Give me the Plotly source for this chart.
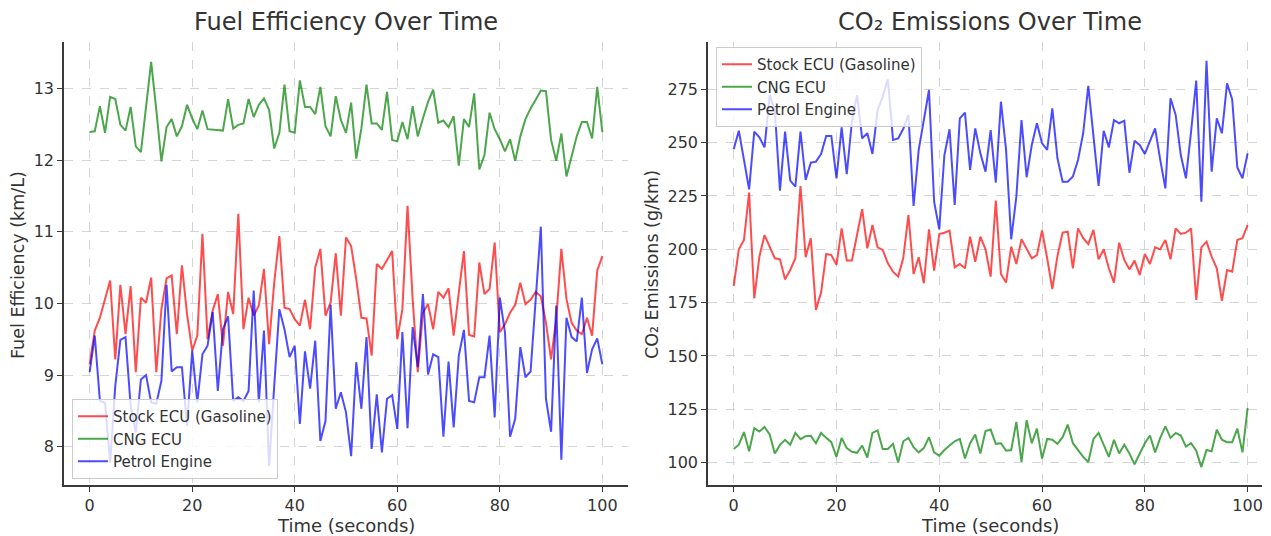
import plotly.graph_objects as go

W, H = 1271, 536
time_s = list(range(0, 101))

# ---- Fuel efficiency (km/L) ----
stock_fe = [9.15, 9.62, 9.80, 10.06, 10.32, 9.22, 10.26, 9.57, 10.24, 9.04,
            10.08, 10.01, 10.36, 9.04, 9.92, 10.35, 10.39, 9.57, 10.53, 9.85,
            9.34, 9.55, 10.97, 9.50, 9.90, 10.13, 9.41, 10.16, 9.85, 11.25,
            9.64, 10.08, 9.83, 9.97, 10.48, 9.43, 10.29, 10.94, 9.94, 9.92,
            9.78, 9.69, 10.05, 9.64, 10.50, 10.76, 9.83, 10.01, 10.70, 9.83,
            10.92, 10.80, 10.34, 9.80, 9.79, 9.27, 10.55, 10.48, 10.60, 10.73,
            9.50, 9.92, 11.36, 10.06, 9.04, 9.87, 9.99, 9.64, 10.16, 10.08,
            10.21, 9.55, 10.15, 10.73, 9.56, 9.54, 10.57, 10.13, 10.20, 10.85,
            9.60, 9.71, 9.87, 9.98, 10.29, 9.99, 10.05, 10.16, 10.10, 9.73,
            9.22, 9.78, 10.76, 10.06, 9.73, 9.62, 9.57, 9.80, 9.55, 10.46,
            10.66]
cng_fe = [12.39, 12.40, 12.75, 12.38, 12.88, 12.85, 12.49, 12.41, 12.74, 12.19,
          12.11, 12.74, 13.37, 12.70, 11.98, 12.46, 12.57, 12.33, 12.47, 12.77,
          12.58, 12.43, 12.69, 12.43, 12.42, 12.41, 12.41, 12.85, 12.44, 12.49,
          12.51, 12.85, 12.60, 12.77, 12.86, 12.70, 12.16, 12.38, 13.05, 12.40,
          12.38, 13.11, 12.74, 12.74, 12.64, 13.02, 12.47, 12.33, 12.89, 12.56,
          12.38, 12.80, 12.02, 12.44, 13.05, 12.51, 12.51, 12.42, 12.95, 12.28,
          12.26, 12.53, 12.29, 12.75, 12.33, 12.58, 12.81, 12.98, 12.52, 12.55,
          12.46, 12.61, 11.92, 12.57, 12.46, 12.93, 11.87, 12.07, 12.66, 12.43,
          12.29, 12.12, 12.29, 11.99, 12.33, 12.57, 12.72, 12.84, 12.97, 12.96,
          12.28, 11.99, 12.37, 11.77, 12.07, 12.33, 12.53, 12.53, 12.30, 13.02,
          12.39]
petrol_fe = [9.04, 9.55, 8.64, 8.61, 7.78, 8.85, 9.49, 9.53, 8.57, 8.20,
             8.94, 9.00, 8.62, 8.60, 8.92, 10.26, 9.05, 9.11, 9.11, 8.29,
             9.34, 8.62, 9.29, 9.41, 9.88, 8.78, 9.64, 9.82, 8.64, 8.69,
             8.64, 8.78, 10.18, 8.62, 9.62, 7.73, 8.85, 9.92, 9.64, 9.25,
             9.41, 8.32, 9.33, 8.81, 9.48, 8.08, 8.36, 9.98, 8.53, 8.76,
             8.48, 7.87, 9.18, 8.53, 9.53, 7.97, 8.73, 7.92, 8.67, 8.72,
             8.25, 9.60, 8.26, 9.67, 9.11, 10.13, 9.01, 9.29, 9.25, 8.14,
             9.19, 8.27, 9.27, 9.63, 8.64, 8.62, 8.97, 8.97, 9.55, 8.41,
             10.08, 9.60, 8.14, 8.39, 9.39, 8.97, 9.05, 10.06, 11.07, 8.67,
             8.21, 9.97, 7.82, 9.80, 9.53, 9.47, 10.08, 9.03, 9.36, 9.51,
             9.15]

# ---- CO2 emissions (g/km) ----
stock_co2 = [182.8, 200.0, 204.4, 226.6, 177.0, 196.6, 206.7, 201.3, 195.8, 195.3,
             185.9, 190.3, 195.8, 229.7, 196.3, 205.2, 171.6, 179.7, 197.8, 197.3,
             192.7, 209.8, 194.7, 194.7, 207.5, 218.8, 200.5, 211.4, 200.9, 199.7,
             193.4, 189.5, 187.2, 196.0, 216.1, 188.4, 196.3, 184.1, 209.4, 190.0,
             207.2, 207.8, 208.8, 191.6, 193.1, 191.1, 205.9, 194.2, 205.9, 200.0,
             187.2, 222.8, 188.4, 184.4, 201.3, 193.1, 204.7, 200.5, 195.8, 197.3,
             208.8, 195.8, 181.3, 196.9, 207.8, 208.3, 191.1, 209.8, 205.2, 202.5,
             209.1, 195.3, 200.0, 191.1, 184.4, 203.1, 195.0, 190.6, 194.7, 188.0,
             197.8, 193.1, 200.9, 200.0, 204.4, 195.3, 209.8, 207.2, 207.8, 209.8,
             176.3, 200.9, 203.6, 196.6, 191.1, 175.9, 190.3, 189.5, 204.4, 205.2,
             211.4]
cng_co2 = [106.4, 108.4, 114.3, 105.3, 116.2, 114.6, 116.7, 113.2, 104.3, 108.3,
           110.7, 108.4, 113.9, 111.0, 112.4, 112.6, 109.1, 113.9, 111.6, 109.6,
           102.7, 111.5, 106.8, 105.1, 104.6, 108.0, 102.4, 113.9, 115.1, 106.4,
           106.4, 108.8, 100.0, 110.0, 111.6, 107.2, 104.8, 106.8, 111.9, 104.8,
           103.2, 105.9, 108.0, 110.0, 111.1, 101.9, 109.1, 113.2, 104.3, 114.8,
           115.5, 108.8, 109.1, 105.6, 105.9, 119.1, 100.3, 119.9, 109.1, 115.9,
           101.9, 111.1, 110.7, 108.8, 111.9, 117.8, 109.1, 105.9, 102.7, 100.3,
           111.1, 113.9, 108.0, 102.7, 110.7, 104.3, 108.4, 104.3, 99.2, 104.0,
           109.1, 112.7, 104.8, 111.6, 117.0, 111.6, 113.9, 112.7, 107.5, 109.1,
           105.6, 97.9, 105.9, 105.3, 115.4, 110.7, 109.6, 109.6, 115.9, 104.8,
           125.5]
petrol_co2 = [246.9, 255.6, 241.9, 228.1, 255.2, 252.5, 247.8, 272.3, 265.3, 227.5,
              255.2, 232.2, 229.4, 255.2, 232.5, 240.6, 241.1, 244.7, 253.1, 253.1,
              233.3, 257.2, 235.3, 259.8, 272.3, 252.0, 254.4, 244.7, 265.3, 271.6,
              279.7, 251.3, 252.0, 256.5, 263.0, 220.3, 246.6, 259.8, 274.7, 222.3,
              209.4, 244.2, 256.3, 220.8, 261.4, 264.1, 237.2, 256.7, 245.0, 236.4,
              255.9, 231.3, 269.2, 246.6, 204.7, 224.7, 260.6, 233.8, 248.9, 259.1,
              249.7, 246.6, 266.1, 242.7, 231.7, 231.7, 234.1, 241.9, 254.4, 276.6,
              252.8, 229.7, 255.6, 247.8, 260.6, 259.1, 260.3, 235.9, 250.9, 248.9,
              244.7, 250.5, 256.7, 241.9, 228.6, 270.8, 263.0, 244.2, 233.3, 255.2,
              279.1, 222.3, 288.4, 236.4, 261.4, 254.4, 277.8, 270.3, 238.4, 233.3,
              245.0]

series_names = ["Stock ECU (Gasoline)", "CNG ECU", "Petrol Engine"]
colors = ["rgba(255,0,0,0.7)", "rgba(0,128,0,0.7)", "rgba(0,0,255,0.7)"]
x_ticks = [0, 20, 40, 60, 80, 100]
fe_ticks = [8, 9, 10, 11, 12, 13]
co2_ticks = [100, 125, 150, 175, 200, 225, 250, 275]

FONT = "DejaVu Sans"
TXT = "#333333"

fig = go.Figure()
for name, ys, c in zip(series_names, [stock_fe, cng_fe, petrol_fe], colors):
    fig.add_trace(go.Scatter(x=time_s, y=ys, mode="lines", name=name,
                             line=dict(color=c, width=2), xaxis="x", yaxis="y",
                             legend="legend"))
for name, ys, c in zip(series_names, [stock_co2, cng_co2, petrol_co2], colors):
    fig.add_trace(go.Scatter(x=time_s, y=ys, mode="lines", name=name,
                             line=dict(color=c, width=2), xaxis="x2", yaxis="y2",
                             legend="legend2"))

def px_x(p):
    return p / W

def px_y(p):
    return (H - p) / H

ax_common = dict(showline=True, linecolor="#3a3a3a", linewidth=1.5,
                 ticks="outside", ticklen=5, tickwidth=1.2, tickcolor="#3a3a3a",
                 showgrid=True, gridcolor="#d4d4d4", griddash="dash", gridwidth=1,
                 zeroline=False, mirror=False,
                 tickfont=dict(family=FONT, size=16, color=TXT))

ydom = [px_y(485), px_y(42)]
legend_common = dict(bgcolor="rgba(255,255,255,0.8)", bordercolor="#cccccc",
                     borderwidth=1, font=dict(family=FONT, size=15, color=TXT),
                     tracegroupgap=0, itemwidth=30)
fig.update_layout(
    width=W, height=H,
    margin=dict(l=0, r=0, t=0, b=0),
    paper_bgcolor="white", plot_bgcolor="white",
    font=dict(family=FONT, color=TXT),
    xaxis=dict(domain=[px_x(64), px_x(628)], range=[-5, 105],
               tickvals=x_ticks, anchor="y", **ax_common),
    yaxis=dict(domain=ydom, range=[7.467, 13.646], tickvals=fe_ticks,
               anchor="x", **ax_common),
    xaxis2=dict(domain=[px_x(708), px_x(1262)], range=[-5, 102.8],
                tickvals=x_ticks, anchor="y2", **ax_common),
    yaxis2=dict(domain=ydom, range=[89.5, 297.2], tickvals=co2_ticks,
                anchor="x2", **ax_common),
    legend=dict(x=px_x(72), y=px_y(479), xanchor="left", yanchor="bottom",
                **legend_common),
    legend2=dict(x=px_x(716), y=px_y(47), xanchor="left", yanchor="top",
                 **legend_common),
)

annots = [
    dict(text="Fuel Efficiency Over Time", x=px_x(346), y=px_y(22), size=24, angle=0),
    dict(text="CO₂ Emissions Over Time", x=px_x(990), y=px_y(22), size=24, angle=0),
    dict(text="Time (seconds)", x=px_x(346), y=px_y(525), size=18, angle=0),
    dict(text="Time (seconds)", x=px_x(990), y=px_y(525), size=18, angle=0),
    dict(text="Fuel Efficiency (km/L)", x=px_x(18), y=px_y(265), size=17.5, angle=-90),
    dict(text="CO₂ Emissions (g/km)", x=px_x(652), y=px_y(265), size=17.5, angle=-90),
]
for a in annots:
    fig.add_annotation(text=a["text"], x=a["x"], y=a["y"], xref="paper", yref="paper",
                       xanchor="center", yanchor="middle", showarrow=False,
                       textangle=a["angle"],
                       font=dict(family=FONT, size=a["size"], color=TXT))

fig.write_html("out.html")
